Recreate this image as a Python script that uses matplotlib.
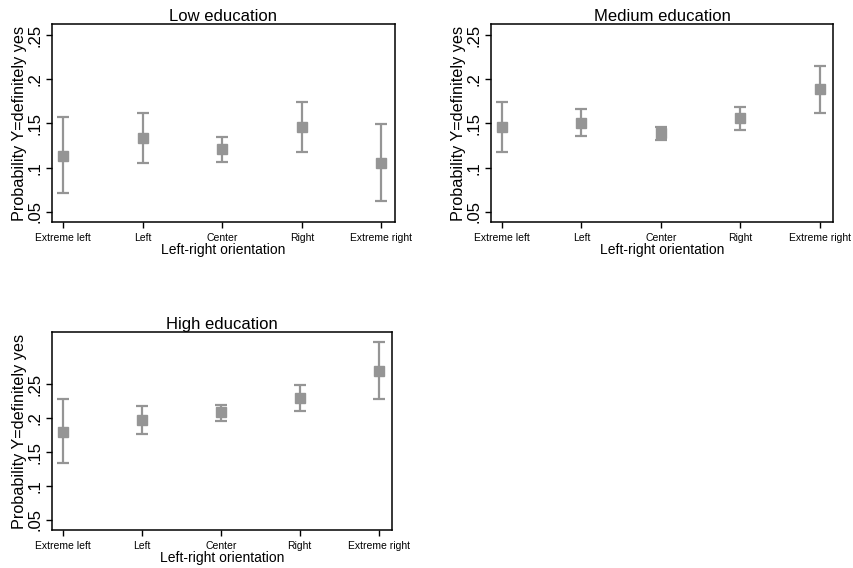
import matplotlib
matplotlib.use('Agg')
import matplotlib.pyplot as plt

categories = ['Extreme left', 'Left', 'Center', 'Right', 'Extreme right']

low_est = [0.1136, 0.1331, 0.1211, 0.1456, 0.1049]
low_lo = [0.0710, 0.1049, 0.1068, 0.1173, 0.0623]
low_hi = [0.1569, 0.1621, 0.1350, 0.1746, 0.1490]

med_est = [0.1456, 0.1508, 0.1395, 0.1557, 0.1885]
med_lo = [0.1173, 0.1358, 0.1316, 0.1426, 0.1621]
med_hi = [0.1746, 0.1663, 0.1460, 0.1685, 0.2145]

high_est = [0.1803, 0.1975, 0.2084, 0.2291, 0.2700]
high_lo = [0.1335, 0.1773, 0.1956, 0.2108, 0.2286]
high_hi = [0.2276, 0.2177, 0.2202, 0.2483, 0.3123]

yticks = [0.05, 0.1, 0.15, 0.2, 0.25]
ytick_labels = ['.05', '.1', '.15', '.2', '.25']

plt.rcParams['font.family'] = ['Liberation Sans', 'DejaVu Sans']
grey = '#959595'

fig = plt.figure(figsize=(8.54, 5.68), dpi=100)


def draw_panel(rect, title, est, lo, hi, ylim):
    ax = fig.add_axes(rect)
    x = range(1, len(categories) + 1)
    err = [[e - l for e, l in zip(est, lo)], [h - e for e, h in zip(est, hi)]]
    ax.errorbar(x, est, yerr=err, fmt='s', color=grey, ecolor=grey,
                markersize=7.5, elinewidth=1.6, capsize=4.5, capthick=1.6)
    ax.set_xlim(0.86, 5.17)
    ax.set_ylim(*ylim)
    ax.set_xticks(list(x))
    ax.set_xticklabels(categories, fontsize=7.5)
    ax.set_yticks(yticks)
    ax.set_yticklabels(ytick_labels, fontsize=12, rotation=90, va='center')
    ax.set_title(title, fontsize=12, pad=2)
    ax.set_xlabel('Left-right orientation', fontsize=10, labelpad=0)
    ax.set_ylabel('Probability Y=definitely yes', fontsize=11.7, labelpad=1)
    ax.tick_params(direction='out', length=4.5, width=1, pad=3.5)
    ax.tick_params(axis='y', pad=2)
    for sp in ax.spines.values():
        sp.set_linewidth(1.1)
    return ax


draw_panel([0.0609, 0.6092, 0.4016, 0.3486], 'Low education',
           low_est, low_lo, low_hi, (0.0387, 0.2624))
draw_panel([0.5749, 0.6092, 0.4005, 0.3486], 'Medium education',
           med_est, med_lo, med_hi, (0.0387, 0.2624))
draw_panel([0.0609, 0.0669, 0.3981, 0.3481], 'High education',
           high_est, high_lo, high_hi, (0.0348, 0.3269))

fig.savefig('out.png', dpi=100)
